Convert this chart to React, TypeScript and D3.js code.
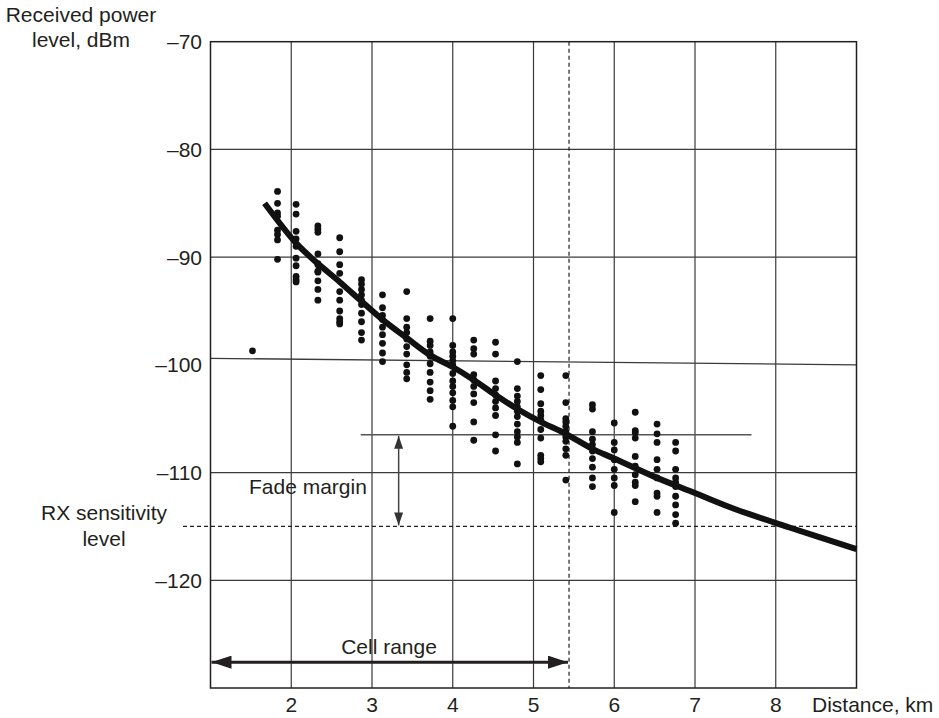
import { useEffect, useRef } from "react";
import * as d3 from "d3";

// measured field strength samples, one column of dots per distance
const sampleKm = [1.83, 2.06, 2.33, 2.6, 2.87, 3.13, 3.43, 3.72, 4.0, 4.26, 4.53, 4.8, 5.09, 5.4, 5.73, 6.0, 6.26, 6.53, 6.76];
const sampleDbm = [
  [-83.9, -85.0, -85.9, -86.2, -87.5, -87.9, -88.4, -90.2],
  [-85.1, -86.0, -87.6, -88.3, -89.0, -90.1, -90.8, -91.8, -92.1, -92.3],
  [-87.1, -87.4, -87.7, -89.7, -90.6, -90.7, -91.3, -91.4, -92.2, -93.0, -94.0],
  [-88.2, -89.5, -90.7, -91.5, -93.2, -94.0, -95.0, -95.7, -96.0, -96.2],
  [-92.1, -92.5, -93.0, -93.5, -94.0, -94.4, -95.2, -96.0, -97.0, -97.7],
  [-93.5, -94.7, -95.4, -95.8, -96.5, -97.2, -98.0, -98.9, -99.7],
  [-93.2, -95.7, -96.5, -97.0, -97.6, -98.3, -99.0, -100.0, -100.7, -101.3],
  [-95.7, -97.8, -98.2, -98.8, -99.2, -99.9, -100.7, -101.6, -102.4, -103.2],
  [-95.7, -98.2, -98.8, -99.2, -99.6, -100.0, -100.8, -101.5, -102.0, -102.6, -103.3, -103.9, -105.7],
  [-97.7, -98.5, -99.0, -100.9, -101.4, -102.0, -102.7, -103.5, -105.3, -107.0],
  [-97.9, -99.0, -101.5, -102.2, -102.8, -103.4, -104.0, -104.7, -106.5, -108.0],
  [-99.7, -102.2, -102.9, -103.4, -103.9, -104.3, -104.8, -105.5, -106.2, -106.7, -107.2, -109.2],
  [-101.0, -102.3, -103.6, -104.3, -104.7, -105.1, -106.0, -106.8, -108.4, -108.7, -109.0],
  [-101.0, -103.5, -105.0, -105.3, -105.7, -106.2, -106.7, -107.1, -107.8, -108.4, -110.7],
  [-103.7, -104.1, -106.2, -106.9, -107.4, -108.0, -108.7, -109.5, -110.5, -111.3],
  [-105.4, -107.2, -107.9, -108.8, -109.7, -110.5, -111.2, -113.7],
  [-104.4, -106.1, -106.3, -106.8, -108.5, -109.4, -110.2, -110.9, -111.2, -112.7],
  [-105.5, -106.4, -107.2, -108.8, -109.7, -110.5, -111.9, -112.2, -113.7],
  [-107.2, -108.0, -109.7, -110.5, -110.9, -111.3, -112.2, -113.0, -113.9, -114.7],
];
const outlierKm = [1.52];
const outlierDbm = [-98.7];

// fitted propagation curve
const curveKm = [1.67, 2.06, 2.33, 2.6, 2.87, 3.13, 3.43, 3.72, 4.0, 4.26, 4.53, 4.8, 5.09, 5.4, 5.73, 6.0, 6.5, 7.0, 7.5, 8.17, 9.0];
const curveDbm = [-85.0, -88.7, -90.6, -92.3, -94.1, -95.8, -97.5, -99.1, -100.2, -101.4, -102.8, -104.1, -105.3, -106.4, -107.8, -108.7, -110.4, -111.9, -113.4, -115.1, -117.1];

const xTicks = [2, 3, 4, 5, 6, 7, 8];
const yTicks = [-70, -80, -90, -100, -110, -120];
// the -100 rule in the print is drawn slightly tilted
const tiltedRuleDbm = [-99.4, -100.0];

const sensitivityDbm = -115;
const cellEdgeKm = 5.44;
const fadeLevelDbm = -106.5;
const fadeLineKm = [2.86, 7.7];
const fadeArrowKm = 3.33;
const cellRangeDbm = -127.6;

const FONT = "'Liberation Sans', Arial, Helvetica, sans-serif";
const INK = "#231f20";
const GRID = "#3a3a3a";

export default function App() {
  const ref = useRef<SVGSVGElement>(null);

  useEffect(() => {
    const el = ref.current;
    if (!el) return;
    const svg = d3.select(el);
    svg.selectAll("*").remove();

    const x = d3.scaleLinear().domain([1, 9]).range([210.5, 856.5]);
    const y = d3.scaleLinear().domain([-130, -70]).range([688, 41.7]);
    const [x0, x1] = x.range();
    const [yb, yt] = y.range();

    const defs = svg.append("defs");
    const mk = (id: string, len: number, half: number, color: string) =>
      defs
        .append("marker")
        .attr("id", id)
        .attr("markerUnits", "userSpaceOnUse")
        .attr("viewBox", `0 ${-half} ${len} ${half * 2}`)
        .attr("refX", len)
        .attr("refY", 0)
        .attr("markerWidth", len)
        .attr("markerHeight", half * 2)
        .attr("orient", "auto-start-reverse")
        .append("path")
        .attr("d", `M0,${-half}L${len},0L0,${half}Z`)
        .attr("fill", color);
    mk("bigHead", 20, 6.5, INK);
    mk("smallHead", 13, 4.5, "#333");

    // grid
    const g = svg.append("g");
    g.selectAll("line.vx")
      .data(xTicks)
      .join("line")
      .attr("x1", (d) => x(d))
      .attr("x2", (d) => x(d))
      .attr("y1", yt)
      .attr("y2", yb)
      .attr("stroke", GRID)
      .attr("stroke-width", 1.2);
    g.selectAll("line.hy")
      .data(yTicks.filter((d) => d !== -70 && d !== -100))
      .join("line")
      .attr("x1", x0)
      .attr("x2", x1)
      .attr("y1", (d) => y(d))
      .attr("y2", (d) => y(d))
      .attr("stroke", GRID)
      .attr("stroke-width", 1.2);
    g.append("line")
      .attr("x1", x0)
      .attr("x2", x1)
      .attr("y1", y(tiltedRuleDbm[0]))
      .attr("y2", y(tiltedRuleDbm[1]))
      .attr("stroke", GRID)
      .attr("stroke-width", 1.4);

    // frame
    g.append("rect")
      .attr("x", x0)
      .attr("y", yt)
      .attr("width", x1 - x0)
      .attr("height", yb - yt)
      .attr("fill", "none")
      .attr("stroke", INK)
      .attr("stroke-width", 1.5);

    // sensitivity and cell edge (dashed)
    g.append("line")
      .attr("x1", 183)
      .attr("x2", x1)
      .attr("y1", y(sensitivityDbm))
      .attr("y2", y(sensitivityDbm))
      .attr("stroke", INK)
      .attr("stroke-width", 1.2)
      .attr("stroke-dasharray", "4,3");
    g.append("line")
      .attr("x1", x(cellEdgeKm))
      .attr("x2", x(cellEdgeKm))
      .attr("y1", yt)
      .attr("y2", yb)
      .attr("stroke", INK)
      .attr("stroke-width", 1.2)
      .attr("stroke-dasharray", "4,3");

    // fade margin
    g.append("line")
      .attr("x1", x(fadeLineKm[0]))
      .attr("x2", x(fadeLineKm[1]))
      .attr("y1", y(fadeLevelDbm))
      .attr("y2", y(fadeLevelDbm))
      .attr("stroke", "#555")
      .attr("stroke-width", 1.5);
    g.append("line")
      .attr("x1", x(fadeArrowKm))
      .attr("x2", x(fadeArrowKm))
      .attr("y1", y(fadeLevelDbm) + 1)
      .attr("y2", y(sensitivityDbm) - 1)
      .attr("stroke", "#444")
      .attr("stroke-width", 1.5)
      .attr("marker-start", "url(#smallHead)")
      .attr("marker-end", "url(#smallHead)");

    // cell range
    g.append("line")
      .attr("x1", x0 + 1)
      .attr("x2", x(cellEdgeKm) - 1)
      .attr("y1", y(cellRangeDbm))
      .attr("y2", y(cellRangeDbm))
      .attr("stroke", INK)
      .attr("stroke-width", 3)
      .attr("marker-start", "url(#bigHead)")
      .attr("marker-end", "url(#bigHead)");

    // samples
    const pts = sampleKm.flatMap((k, i) => sampleDbm[i].map((v) => [k, v]));
    outlierKm.forEach((k, i) => pts.push([k, outlierDbm[i]]));
    g.selectAll("circle")
      .data(pts)
      .join("circle")
      .attr("cx", (d) => x(d[0]))
      .attr("cy", (d) => y(d[1]))
      .attr("r", 3.4)
      .attr("fill", "#111");

    // curve
    const line = d3
      .line<number>()
      .x((d) => x(d))
      .y((_, i) => y(curveDbm[i]))
      .curve(d3.curveCatmullRom.alpha(0.5));
    g.append("path")
      .attr("d", line(curveKm))
      .attr("fill", "none")
      .attr("stroke", "#111")
      .attr("stroke-width", 6);

    // labels
    const t = svg
      .append("g")
      .attr("font-family", FONT)
      .attr("font-size", 21)
      .attr("fill", INK);
    t.selectAll("text.yt")
      .data(yTicks)
      .join("text")
      .attr("x", 202)
      .attr("y", (d) => y(d) + 7.5)
      .attr("text-anchor", "end")
      .text((d) => `\u2013${Math.abs(d)}`);
    t.selectAll("text.xt")
      .data(xTicks)
      .join("text")
      .attr("x", (d) => x(d))
      .attr("y", 712)
      .attr("text-anchor", "middle")
      .text((d) => String(d));
    t.append("text").attr("x", 812).attr("y", 712).text("Distance, km");
    t.append("text").attr("x", 81).attr("y", 22).attr("text-anchor", "middle").text("Received power");
    t.append("text").attr("x", 81).attr("y", 47).attr("text-anchor", "middle").text("level, dBm");
    t.append("text").attr("x", 104).attr("y", 520).attr("text-anchor", "middle").text("RX sensitivity");
    t.append("text").attr("x", 104).attr("y", 546).attr("text-anchor", "middle").text("level");
    t.append("text").attr("x", 249).attr("y", 494).text("Fade margin");
    t.append("text").attr("x", 389).attr("y", 654).attr("text-anchor", "middle").text("Cell range");
  }, []);

  return (
    <svg
      ref={ref}
      width={939}
      height={718}
      style={{ position: "absolute", left: 0, top: 0, background: "#fff" }}
    />
  );
}
